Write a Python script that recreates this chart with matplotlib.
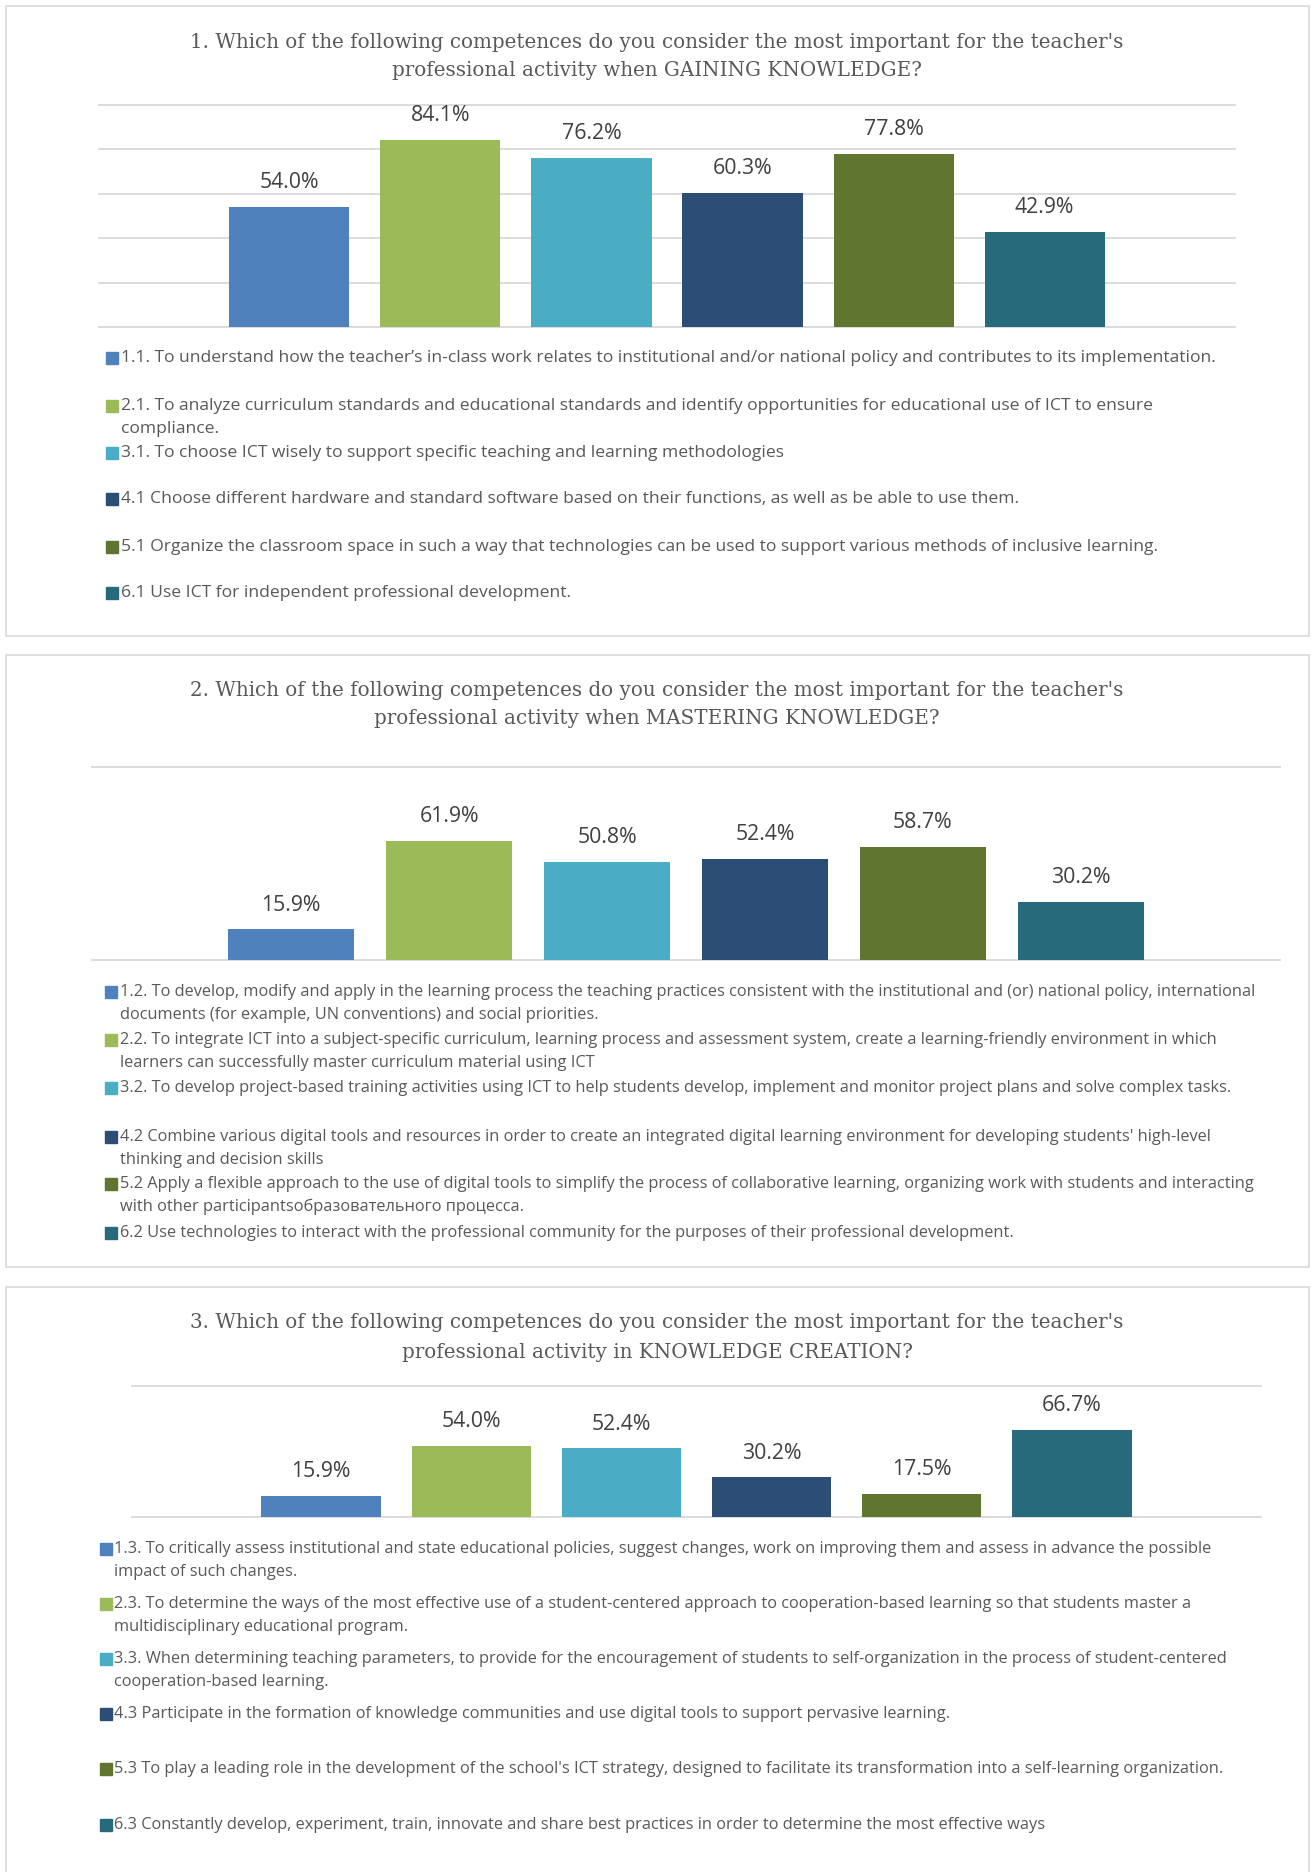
import matplotlib.pyplot as plt
from matplotlib.patches import Rectangle

W, H = 1313, 1872

colors = ['#4F81BD', '#9BBB59', '#4BACC6', '#2C4D75', '#5F7530', '#276A7C']

titles = [
    "1. Which of the following competences do you consider the most important for the teacher's\nprofessional activity when GAINING KNOWLEDGE?",
    "2. Which of the following competences do you consider the most important for the teacher's\nprofessional activity when MASTERING KNOWLEDGE?",
    "3. Which of the following competences do you consider the most important for the teacher's\nprofessional activity in KNOWLEDGE CREATION?",
]

values_1 = [54.0, 84.1, 76.2, 60.3, 77.8, 42.9]
values_2 = [15.9, 61.9, 50.8, 52.4, 58.7, 30.2]
values_3 = [15.9, 54.0, 52.4, 30.2, 17.5, 66.7]

labels_1 = [
    "1.1. To understand how the teacher\u2019s in-class work relates to institutional and/or national policy and contributes to its implementation.",
    "2.1. To analyze curriculum standards and educational standards and identify opportunities for educational use of ICT to ensure\ncompliance.",
    "3.1. To choose ICT wisely to support specific teaching and learning methodologies",
    "4.1 Choose different hardware and standard software based on their functions, as well as be able to use them.",
    "5.1 Organize the classroom space in such a way that technologies can be used to support various methods of inclusive learning.",
    "6.1 Use ICT for independent professional development.",
]
labels_2 = [
    "1.2. To develop, modify and apply in the learning process the teaching practices consistent with the institutional and (or) national policy, international\ndocuments (for example, UN conventions) and social priorities.",
    "2.2. To integrate ICT into a subject-specific curriculum, learning process and assessment system, create a learning-friendly environment in which\nlearners can successfully master curriculum material using ICT",
    "3.2. To develop project-based training activities using ICT to help students develop, implement and monitor project plans and solve complex tasks.",
    "4.2 Combine various digital tools and resources in order to create an integrated digital learning environment for developing students' high-level\nthinking and decision skills",
    "5.2 Apply a flexible approach to the use of digital tools to simplify the process of collaborative learning, organizing work with students and interacting\nwith other participants\u043e\u0431\u0440\u0430\u0437\u043e\u0432\u0430\u0442\u0435\u043b\u044c\u043d\u043e\u0433\u043e \u043f\u0440\u043e\u0446\u0435\u0441\u0441\u0430.",
    "6.2 Use technologies to interact with the professional community for the purposes of their professional development.",
]
labels_3 = [
    "1.3. To critically assess institutional and state educational policies, suggest changes, work on improving them and assess in advance the possible\nimpact of such changes.",
    "2.3. To determine the ways of the most effective use of a student-centered approach to cooperation-based learning so that students master a\nmultidisciplinary educational program.",
    "3.3. When determining teaching parameters, to provide for the encouragement of students to self-organization in the process of student-centered\ncooperation-based learning.",
    "4.3 Participate in the formation of knowledge communities and use digital tools to support pervasive learning.",
    "5.3 To play a leading role in the development of the school's ICT strategy, designed to facilitate its transformation into a self-learning organization.",
    "6.3 Constantly develop, experiment, train, innovate and share best practices in order to determine the most effective ways",
]

# layout in pixels (top-left origin)
panels = [
    dict(box=(6, 6, 1309, 636), title_y=(43, 70), plot=(99, 105, 1235, 327),
         grid=[0, 20, 40, 60, 80, 100], mark_x=106, text_x=121, leg_fs=12.6,
         leg_y=[358, 406, 453, 499, 547, 593]),
    dict(box=(6, 655, 1309, 1267), title_y=(690, 718), plot=(92, 767, 1280, 960),
         grid=[0, 100], mark_x=105, text_x=120, leg_fs=11.8,
         leg_y=[992, 1040, 1088, 1137, 1184, 1233]),
    dict(box=(6, 1287, 1309, 1900), title_y=(1323, 1352), plot=(132, 1386, 1261, 1517),
         grid=[0, 100], mark_x=100, text_x=114, leg_fs=11.8,
         leg_y=[1549, 1604, 1659, 1714, 1769, 1825]),
]

fig = plt.figure(figsize=(W / 100, H / 100), dpi=100)
fig.patch.set_facecolor('white')


def fx(x):
    return x / W


def fy(y):
    return 1 - y / H


for p, vals, labs, title in zip(panels, [values_1, values_2, values_3],
                                [labels_1, labels_2, labels_3], titles):
    x0, y0, x1, y1 = p['box']
    fig.patches.append(Rectangle((fx(x0), fy(y1)), fx(x1 - x0), (y1 - y0) / H,
                                 transform=fig.transFigure, fill=False,
                                 edgecolor='#D9D9D9', lw=1.2, zorder=0))

    # title
    for line, ty in zip(title.split('\n'), p['title_y']):
        fig.text(fx(657), fy(ty), line, ha='center', va='center',
                 family='DejaVu Serif', fontsize=14.3, color='#595959')

    # bar chart
    px0, py0, px1, py1 = p['plot']
    ax = fig.add_axes([fx(px0), fy(py1), fx(px1 - px0), (py1 - py0) / H])
    xs = list(range(len(vals)))
    ax.bar(xs, vals, width=0.795, color=colors, zorder=2)
    ax.set_xlim(-1.26, 6.26)
    ax.set_ylim(0, 100)
    for g in p['grid']:
        ax.axhline(g, color='#D9D9D9', lw=1.3, clip_on=False, zorder=1)
    for x, v in zip(xs, vals):
        ax.annotate(f'{v:.1f}%', (x, v), xytext=(0, 17.5), textcoords='offset points',
                    ha='center', va='center', family='Open Sans', fontsize=15.3,
                    color='#404040')
    ax.axis('off')

    # legend
    for lab, ly, c in zip(labs, p['leg_y'], colors):
        fig.patches.append(Rectangle((fx(p['mark_x']), fy(ly + 6)), fx(12), 12 / H,
                                     transform=fig.transFigure, color=c))
        for k, line in enumerate(lab.split('\n')):
            fig.text(fx(p['text_x']), fy(ly + 23 * k), line, ha='left', va='center',
                     family='Open Sans', fontsize=p['leg_fs'], color='#595959')

fig.savefig('out.png', dpi=100, facecolor='white')
